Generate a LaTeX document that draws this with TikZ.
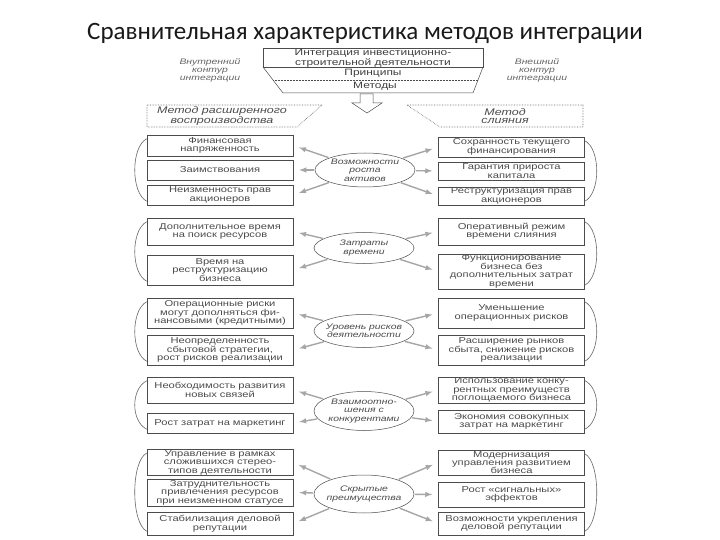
\documentclass[tikz,border=0pt]{standalone}
\usepackage{fontspec}
\setmainfont{Liberation Sans}
\newfontfamily\boxfont[FakeStretch=1.3]{Liberation Sans}
\newfontfamily\titlefont{Carlito}
\usetikzlibrary{shapes.geometric,positioning}

\begin{document}
\begin{tikzpicture}[x=1pt,y=-1pt,
  box/.style={draw=black!70,line width=.5pt,minimum width=146pt,text width=142pt,
    align=center,inner sep=1pt,text=black!70,font=\boxfont\fontsize{8.6}{8.4}\selectfont},
  ell/.style={ellipse,draw=black!70,line width=.5pt,minimum width=100pt,minimum height=34pt,
    inner xsep=-6pt,inner ysep=-3pt,align=center,text=black!70,
    font=\boxfont\itshape\fontsize{8}{8.4}\selectfont},
  head/.style={align=center,inner sep=0pt,text=black!75,font=\boxfont\fontsize{9.2}{8.4}\selectfont},
  side/.style={align=center,inner sep=0pt,text=black!60,font=\boxfont\itshape\fontsize{8}{8}\selectfont},
  mtext/.style={align=center,inner sep=0pt,text=black!70,font=\boxfont\itshape\fontsize{9.6}{8.6}\selectfont},
  frame/.style={draw=black!70,line width=.5pt},
  mframe/.style={draw=black!60,line width=.6pt,densely dotted},
  arr/.style={draw=black!35,line width=1.4pt,-latex,shorten >=6pt,shorten <=1pt},
  brk/.style={draw=black!60,line width=.6pt}
]
  \path[fill=white,use as bounding box] (0,0) rectangle (720,540);

  \node[font=\titlefont\fontsize{25}{29}\selectfont,text=black!90] (title) at (365,33)
    {Сравнительная характеристика методов интеграции};

  % funnel of principles and methods
  \draw[frame] (263,48) rectangle (483,67);
  \draw[frame] (263,67) -- (283,93) -- (473,93) -- (483,67);
  \draw[frame,densely dotted] (273,80) -- (478,80);
  \node[head] (integ) at (373,58) {Интеграция инвестиционно-\\строительной деятельности};
  \node[head] (princ) at (373,73.5) {Принципы};
  \node[head] (meth) at (375,86.5) {Методы};
  \node[side] (inner) at (210,70) {Внутренний\\контур\\интеграции};
  \node[side] (outer) at (537,70) {Внешний\\контур\\интеграции};
  \draw[frame] (360,94) -- (373,94) -- (373,103) -- (382,103) -- (367,113)
    -- (352,103) -- (360,103) -- cycle;

  \draw[mframe] (147,105) -- (322,105) -- (297,127) -- (147,127) -- cycle;
  \node[mtext] (mext) at (222,116) {Метод расширенного\\воспроизводства};
  \draw[mframe] (407,105) -- (583,105) -- (583,127) -- (440,127) -- cycle;
  \node[mtext] (mmerge) at (505,116) {Метод\\слияния};

  % criteria
  \node[ell] (growth) at (365,170) {Возможности\\роста\\активов};
  \node[ell,minimum height=31pt] (time) at (364,248) {Затраты\\времени};
  \node[ell,minimum height=33pt] (risk) at (364,331) {Уровень рисков\\деятельности};
  \node[ell,minimum height=39pt] (rivals) at (364,411) {Взаимоотно-\\шения с\\конкурентами};
  \node[ell,minimum height=38pt] (hidden) at (364,494) {Скрытые\\преимущества};

  % left column
  \node[box,minimum height=21pt] (l1) at (220,145.5) {Финансовая\\напряженность};
  \node[box,minimum height=20pt] (l2) at (220,170) {Заимствования};
  \node[box,minimum height=20pt] (l3) at (220,195) {Неизменность прав\\акционеров};
  \node[box,minimum height=27pt] (l4) at (220,231.5) {Дополнительное время\\на поиск ресурсов};
  \node[box,minimum height=30pt] (l5) at (220,270) {Время на\\реструктуризацию\\бизнеса};
  \node[box,minimum height=30pt] (l6) at (220,313) {Операционные риски\\могут дополняться фи-\\нансовыми (кредитными)};
  \node[box,minimum height=30pt] (l7) at (220,350) {Неопределенность\\сбытовой стратегии,\\рост рисков реализации};
  \node[box,minimum height=26pt] (l8) at (220,390) {Необходимость развития\\новых связей};
  \node[box,minimum height=20pt] (l9) at (220,423) {Рост затрат на маркетинг};
  \node[box,minimum height=25pt] (l10) at (220,462.5) {Управление в рамках\\сложившихся стерео-\\типов деятельности};
  \node[box,minimum height=25pt] (l11) at (220,492.5) {Затруднительность\\привлечения ресурсов\\при неизменном статусе};
  \node[box,minimum height=23pt] (l12) at (220,523.5) {Стабилизация деловой\\репутации};

  % right column
  \node[box,minimum height=20pt] (r1) at (511.5,147) {Сохранность текущего\\финансирования};
  \node[box,minimum height=18pt] (r2) at (511.5,171) {Гарантия прироста\\капитала};
  \node[box,minimum height=18pt] (r3) at (511.5,196) {Реструктуризация прав\\акционеров};
  \node[box,minimum height=27pt] (r4) at (511.5,231.5) {Оперативный режим\\времени слияния};
  \node[box,minimum height=33pt] (r5) at (511.5,271.5) {Функционирование\\бизнеса без\\дополнительных затрат\\времени};
  \node[box,minimum height=30pt] (r6) at (511.5,313) {Уменьшение\\операционных рисков};
  \node[box,minimum height=30pt] (r7) at (511.5,350) {Расширение рынков\\сбыта, снижение рисков\\реализации};
  \node[box,minimum height=26pt] (r8) at (511.5,390) {Использование конку-\\рентных преимуществ\\поглощаемого бизнеса};
  \node[box,minimum height=23pt] (r9) at (511.5,421.5) {Экономия совокупных\\затрат на маркетинг};
  \node[box,minimum height=25pt] (r10) at (511.5,462.5) {Модернизация\\управления развитием\\бизнеса};
  \node[box,minimum height=25pt] (r11) at (511.5,494.5) {Рост «сигнальных»\\эффектов};
  \node[box,minimum height=23pt] (r12) at (511.5,523.5) {Возможности укрепления\\деловой репутации};

  % arrows from criteria
  \draw[arr] (growth) -- (l1.east);  \draw[arr] (growth) -- (l2.east);  \draw[arr] (growth) -- (l3.east);
  \draw[arr] (growth) -- (r1.west);  \draw[arr] (growth) -- (r2.west);  \draw[arr] (growth) -- (r3.west);
  \draw[arr] (time) -- (l4.east);    \draw[arr] (time) -- (l5.east);
  \draw[arr] (time) -- (r4.west);    \draw[arr] (time) -- (r5.west);
  \draw[arr] (risk) -- (l6.east);    \draw[arr] (risk) -- (l7.east);
  \draw[arr] (risk) -- (r6.west);    \draw[arr] (risk) -- (r7.west);
  \draw[arr] (rivals) -- (l8.east);  \draw[arr] (rivals) -- (l9.east);
  \draw[arr] (rivals) -- (r8.west);  \draw[arr] (rivals) -- (r9.west);
  \draw[arr] (hidden) -- (l10.east); \draw[arr] (hidden) -- (l11.east); \draw[arr] (hidden) -- (l12.east);
  \draw[arr] (hidden) -- (r10.west); \draw[arr] (hidden) -- (r11.west); \draw[arr] (hidden) -- (r12.west);

  % side brackets
  \draw[brk] ([yshift=-4pt]l1.north west) .. controls +(-16,8) and +(-16,-8) .. ([yshift=4pt]l3.south west);
  \draw[brk] ([yshift=-4pt]l4.north west) .. controls +(-16,8) and +(-16,-8) .. ([yshift=4pt]l5.south west);
  \draw[brk] ([yshift=-4pt]l6.north west) .. controls +(-16,8) and +(-16,-8) .. ([yshift=4pt]l7.south west);
  \draw[brk] ([yshift=-4pt]l8.north west) .. controls +(-16,8) and +(-16,-8) .. ([yshift=4pt]l9.south west);
  \draw[brk] ([yshift=-4pt]l10.north west) .. controls +(-16,8) and +(-16,-8) .. ([yshift=4pt]l12.south west);
  \draw[brk] ([yshift=-4pt]r1.north east) .. controls +(16,8) and +(16,-8) .. ([yshift=4pt]r3.south east);
  \draw[brk] ([yshift=-4pt]r4.north east) .. controls +(16,8) and +(16,-8) .. ([yshift=4pt]r5.south east);
  \draw[brk] ([yshift=-4pt]r6.north east) .. controls +(16,8) and +(16,-8) .. ([yshift=4pt]r7.south east);
  \draw[brk] ([yshift=-4pt]r8.north east) .. controls +(16,8) and +(16,-8) .. ([yshift=4pt]r9.south east);
  \draw[brk] ([yshift=-4pt]r10.north east) .. controls +(16,8) and +(16,-8) .. ([yshift=4pt]r12.south east);
\end{tikzpicture}
\end{document}
